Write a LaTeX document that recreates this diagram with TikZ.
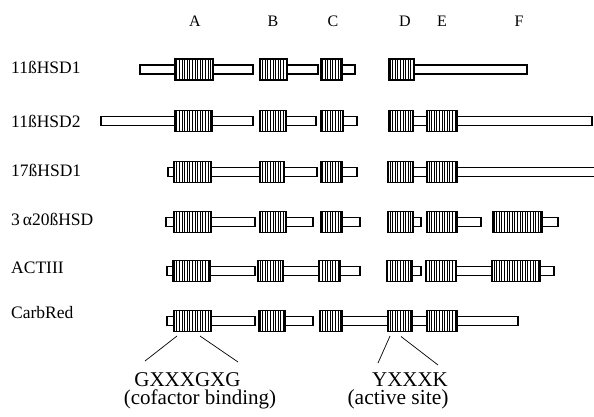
\documentclass[tikz,border=0pt]{standalone}
\usepackage{fontspec}
\setmainfont{Liberation Serif}
\usetikzlibrary{patterns.meta}
\newcommand\sbar[3]{\draw[barst] (#1,#3-4.5) rectangle (#2,#3+4.5);}
\newcommand\dbox[4]{\node[domst,minimum width={(#3-#2)*1pt}] (#1) at ({(#2+#3)/2},#4) {};}
\begin{document}
\begin{tikzpicture}[x=1pt,y=-1pt,
  barst/.style={draw=black,fill=white,line width=1.1pt},
  domst/.style={draw=black,line width=1.4pt,preaction={fill=white},
     pattern={Lines[angle=90,distance=2.6pt,line width=0.95pt]},pattern color=black,
     minimum height=21pt,inner sep=0pt,outer sep=0pt},
  hdr/.style={anchor=base,inner sep=0pt,font=\fontsize{16}{16}\selectfont},
  rowlab/.style={anchor=base west,inner sep=0pt,font=\fontsize{17.5}{17.5}\selectfont},
  motif/.style={anchor=base,inner sep=0pt,font=\fontsize{21}{21}\selectfont},
  callout/.style={draw=black,line width=0.7pt}]
\useasboundingbox (0,0) rectangle (594,417);
% header
\node[hdr] (hA) at (195,27) {A};
\node[hdr] (hB) at (273,27) {B};
\node[hdr] (hC) at (333,27) {C};
\node[hdr] (hD) at (405,27) {D};
\node[hdr] (hE) at (442,27) {E};
\node[hdr] (hF) at (519,27) {F};
% row labels
\node[rowlab] (l1) at (11,74) {11ßHSD1};
\node[rowlab] (l2) at (11,128) {11ßHSD2};
\node[rowlab] (l3) at (11,176) {17ßHSD1};
\node[rowlab] (l4) at (11,225) {3\,α20ßHSD};
\node[rowlab] (l5) at (11,273) {ACTIII};
\node[rowlab] (l6) at (11,318) {CarbRed};
% row 1
\sbar{140}{253}{69.5}\sbar{287}{318}{69.5}\sbar{342}{355}{69.5}\sbar{414}{527}{69.5}
\dbox{r1A}{175}{213}{69.5}\dbox{r1B}{260}{287}{69.5}\dbox{r1C}{321}{342}{69.5}\dbox{r1D}{389}{414}{69.5}
% row 2
\sbar{101}{253}{121}\sbar{286}{316}{121}\sbar{343}{357}{121}\sbar{413}{427}{121}\sbar{457}{592}{121}
\dbox{r2A}{175}{212}{121}\dbox{r2B}{260}{286}{121}\dbox{r2C}{321}{343}{121}\dbox{r2D}{389}{413}{121}\dbox{r2E}{427}{457}{121}
% row 3
\sbar{168}{260}{172}\sbar{284}{317}{172}\sbar{342}{357}{172}\sbar{413}{427}{172}\sbar{457}{600}{172}
\dbox{r3A}{174}{211}{172}\dbox{r3B}{260}{284}{172}\dbox{r3C}{321}{342}{172}\dbox{r3D}{388}{413}{172}\dbox{r3E}{427}{457}{172}
% row 4
\sbar{166}{255}{222}\sbar{286}{313}{222}\sbar{342}{360}{222}\sbar{413}{421}{222}\sbar{457}{481}{222}\sbar{542}{558}{222}
\dbox{r4A}{174}{211}{222}\dbox{r4B}{260}{286}{222}\dbox{r4C}{321}{342}{222}\dbox{r4D}{388}{413}{222}\dbox{r4E}{427}{457}{222}\dbox{r4F}{493}{542}{222}
% row 5
\sbar{167}{255}{271}\sbar{283}{319}{271}\sbar{340}{360}{271}\sbar{412}{421}{271}\sbar{456}{492}{271}\sbar{540}{554}{271}
\dbox{r5A}{173}{210}{271}\dbox{r5B}{258}{283}{271}\dbox{r5C}{319}{340}{271}\dbox{r5D}{387}{412}{271}\dbox{r5E}{426}{456}{271}\dbox{r5F}{492}{540}{271}
% row 6
\sbar{167}{255}{321}\sbar{285}{313}{321}\sbar{342}{388}{321}\sbar{412}{427}{321}\sbar{457}{518}{321}
\dbox{r6A}{174}{211}{321}\dbox{r6B}{259}{285}{321}\dbox{r6C}{320}{342}{321}\dbox{r6D}{388}{412}{321}\dbox{r6E}{427}{457}{321}
% callouts
\coordinate (gL) at (145,361);
\coordinate (gR) at (238,362);
\coordinate (yL) at (378,363);
\coordinate (yR) at (438,365);
\draw[callout] ([shift={(3,4.5)}]r6A.south west) -- (gL);
\draw[callout] ([shift={(26,4.5)}]r6A.south west) -- (gR);
\draw[callout] ([shift={(2,4.5)}]r6D.south west) -- (yL);
\draw[callout] ([shift={(13,5)}]r6D.south west) -- (yR);
\node[motif] (m1) at (187.5,386) {GXXXGXG};
\node[motif] (m1b) at (200,404) {(cofactor binding)};
\node[motif] (m2) at (410,386) {YXXXK};
\node[motif,font=\fontsize{21.5}{21.5}\selectfont] (m2b) at (398,404) {(active site)};
\end{tikzpicture}
\end{document}
